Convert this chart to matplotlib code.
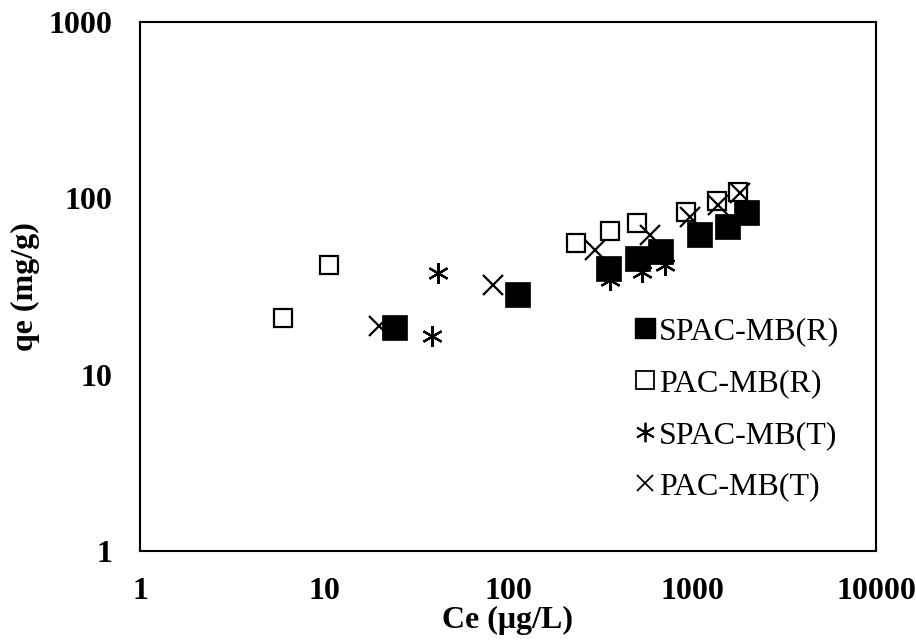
import matplotlib
matplotlib.use("Agg")
import matplotlib.pyplot as plt
from matplotlib.lines import Line2D
from matplotlib.ticker import FixedLocator, FixedFormatter, NullLocator

plt.rcParams['font.family'] = ['Liberation Serif', 'DejaVu Serif']

# Data
spac_r_x = [24.1, 111.5, 351, 500, 670, 1096, 1555, 1965]
spac_r_y = [18.6, 28.8, 40.1, 46.1, 50.3, 62.6, 69.7, 84.1]

pac_r_x = [6.0, 10.6, 233, 358, 500, 928, 1362, 1786]
pac_r_y = [20.9, 41.9, 56.1, 65.3, 72.2, 84.1, 96.7, 109]

spac_t_x = [38.5, 41.8, 358, 533, 713]
spac_t_y = [16.6, 37.9, 34.5, 38.4, 41.9]

pac_t_x = [20, 83.2, 297, 591, 975, 1390, 1824]
pac_t_y = [18.9, 32.3, 51, 62, 78.8, 91.8, 107]

xticks = [1, 10, 100, 1000, 10000]
xtick_labels = ['1', '10', '100', '1000', '10000']
yticks = [1, 10, 100, 1000]
ytick_labels = ['1', '10', '100', '1000']

labels = ['SPAC-MB(R)', 'PAC-MB(R)', 'SPAC-MB(T)', 'PAC-MB(T)']

fig = plt.figure(figsize=(9.16, 6.43), dpi=100)
ax = fig.add_axes([140/916, 1-551/643, (876-140)/916, (551-22)/643])

ax.plot(spac_t_x, spac_t_y, ls='none', marker=(6, 2, 0), ms=15, mec='black', mew=1.6, zorder=2)
ax.plot(pac_t_x, pac_t_y, ls='none', marker='x', ms=14, mec='black', mew=1.6, zorder=2.5)
ax.plot(spac_r_x, spac_r_y, ls='none', marker='s', ms=18, mfc='black', mec='black', mew=0.5, zorder=3)
ax.plot(pac_r_x, pac_r_y, ls='none', marker='s', ms=13, mfc='none', mec='black', mew=1.6, zorder=4)

ax.set_xscale('log')
ax.set_yscale('log')
ax.set_xlim(1, 10000)
ax.set_ylim(1, 1000)
ax.xaxis.set_major_locator(FixedLocator(xticks))
ax.xaxis.set_major_formatter(FixedFormatter(xtick_labels))
ax.yaxis.set_major_locator(FixedLocator(yticks))
ax.yaxis.set_major_formatter(FixedFormatter(ytick_labels))
ax.xaxis.set_minor_locator(NullLocator())
ax.yaxis.set_minor_locator(NullLocator())
ax.tick_params(axis='both', length=0, labelsize=23)
ax.tick_params(axis='x', pad=19)
ax.tick_params(axis='y', pad=20)
for lab in ax.get_xticklabels() + ax.get_yticklabels():
    lab.set_fontweight('bold')
for s in ax.spines.values():
    s.set_linewidth(1.5)

ax.set_xlabel('Ce (μg/L)', fontsize=23, fontweight='bold', labelpad=0)
ax.set_ylabel('qe (mg/g)', fontsize=23, fontweight='bold', labelpad=6)

handles = [
    Line2D([], [], ls='none', marker='s', ms=15, mfc='black', mec='black'),
    Line2D([], [], ls='none', marker='s', ms=13, mfc='none', mec='black', mew=1.3),
    Line2D([], [], ls='none', marker=(6, 2, 0), ms=14, mec='black', mew=1.3),
    Line2D([], [], ls='none', marker='x', ms=12, mec='black', mew=1.3),
]
leg = ax.legend(handles, labels, loc='upper left', bbox_to_anchor=((635-140)/736, (551-317)/529),
                frameon=False, fontsize=23, handlelength=0.6, handletextpad=0.15,
                labelspacing=0.7, borderaxespad=0, borderpad=0)

fig.savefig('out.png', dpi=100)
